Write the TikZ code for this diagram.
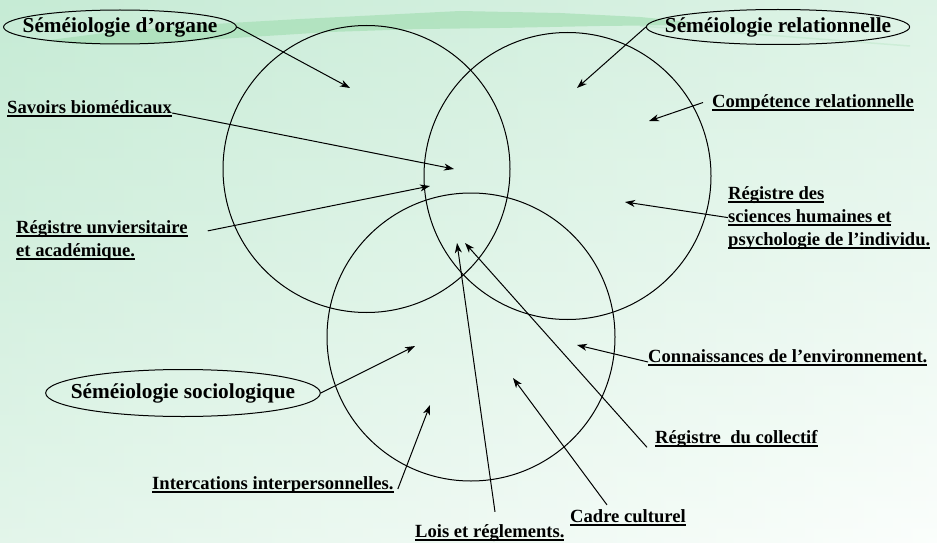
\documentclass[tikz,border=0pt]{standalone}
\usepackage{fontspec}
\setmainfont{Liberation Serif}
\usetikzlibrary{shapes.geometric, arrows.meta}
\definecolor{fondhaut}{HTML}{C6EBD5}
\definecolor{fondbas}{HTML}{FBFEFC}
\definecolor{pinceau}{HTML}{A6DFB5}
\newcommand{\souligne}[1]{\setbox0\hbox{#1}\rlap{\rule[-3.6pt]{\wd0}{1.5pt}}\box0}
\tikzset{
  etiq/.style={anchor=base west, inner sep=0pt, align=left,
    font=\fontsize{18.6}{23}\selectfont\bfseries},
  bulle/.style={draw, ellipse, line width=1pt, inner xsep=-15pt, inner ysep=0pt,
    font=\fontsize{21.3}{25}\selectfont\bfseries},
  fleche/.style={-{Stealth[length=10pt,width=7pt,inset=3pt]}, line width=1pt},
}

\begin{document}
\begin{tikzpicture}[x=1pt, y=-1pt]
		\useasboundingbox (0,0) rectangle (937,543);

		% fond
		\shade[top color=fondhaut, bottom color=fondbas] (0,0) rectangle (937,543);
		\shade[left color=fondhaut, right color=fondbas, opacity=0.45] (0,0) rectangle (937,543);

		% coup de pinceau
		\fill[pinceau, opacity=0.7] (50,40) -- (120,31) -- (230,23) -- (300,19) -- (380,15)
			-- (460,11) -- (560,13) -- (640,17) -- (690,22) -- (690,25) -- (600,26)
			-- (500,28) -- (420,29) -- (330,32) -- (250,37) -- (160,43) -- (80,44) -- cycle;
		\draw[pinceau, line width=1.5pt, opacity=0.3] (640,26) -- (780,36) -- (910,46);

		% cercles
		\draw[line width=1pt] (366.5,169) circle [radius=143.5pt];
		\draw[line width=1pt] (567.5,176) circle [radius=143.5pt];
		\draw[line width=1pt] (471,337) circle [radius=144pt];

		% ellipses
		\node[bulle, minimum height=34pt] (org) at (120,27) {Séméiologie d’organe};
		\node[bulle, minimum height=35pt, inner xsep=-20pt] (rel) at (778,27) {Séméiologie relationnelle};
		\node[bulle, minimum height=47pt] (soc) at (183,393) {Séméiologie sociologique};

		% etiquettes
		\node[etiq] (sav) at (7,113) {\souligne{Savoirs biomédicaux}};
		\node[etiq] (uni) at (16,256) {\souligne{Régistre unviersitaire}\\\souligne{et académique.}};
		\node[etiq] (comp) at (712,107) {\souligne{Compétence relationnelle}};
		\node[etiq] (psy) at (728,245) {\souligne{Régistre des}\\\souligne{sciences humaines et}\\\souligne{psychologie de l’individu.}};
		\node[etiq] (env) at (648,362) {\souligne{Connaissances de l’environnement.}};
		\node[etiq] (coll) at (655,443) {\souligne{Régistre~ du collectif}};
		\node[etiq] (cad) at (570,522) {\souligne{Cadre culturel}};
		\node[etiq] (lois) at (415,537) {\souligne{Lois et réglements.}};
		\node[etiq] (inter) at (152,489) {\souligne{Intercations interpersonnelles.}};

		% pointes
		\coordinate (t-org) at (350,88);
		\coordinate (t-rel) at (577,88);
		\coordinate (t-soc) at (415,346);
		\coordinate (t-sav) at (454,169);
		\coordinate (t-uni) at (430,186);
		\coordinate (t-comp) at (649,121);
		\coordinate (t-psy) at (625,202);
		\coordinate (t-env) at (577,345);
		\coordinate (t-coll) at (465,243);
		\coordinate (t-cad) at (513,378);
		\coordinate (t-lois) at (457,243);
		\coordinate (t-inter) at (430,405);

		% fleches
		\draw[fleche] (org.east) -- (t-org);
		\draw[fleche] (rel.west) -- (t-rel);
		\draw[fleche] (soc.east) -- (t-soc);
		\draw[fleche] (sav.base east) -- (t-sav);
		\draw[fleche] ([shift={(20,11)}]uni.north east) -- (t-uni);
		\draw[fleche] ([xshift=-9pt]comp.west) -- (t-comp);
		\draw[fleche] (psy.west) -- (t-psy);
		\draw[fleche] (env.base west) -- (t-env);
		\draw[fleche] ([xshift=-8pt]coll.south west) -- (t-coll);
		\draw[fleche] ([shift={(37,-4)}]cad.north west) -- (t-cad);
		\draw[fleche] ([shift={(80,-12)}]lois.north west) -- (t-lois);
		\draw[fleche] ([xshift=4pt]inter.base east) -- (t-inter);

	\end{tikzpicture}
\end{document}
